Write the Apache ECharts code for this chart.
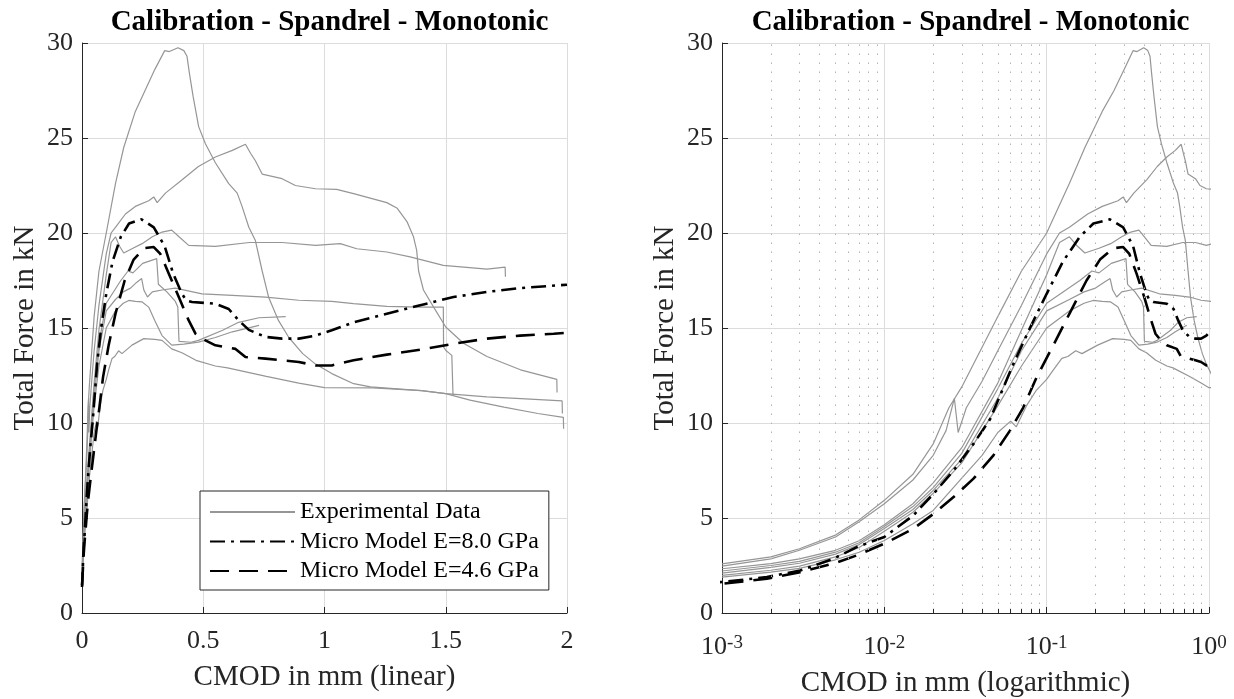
<!DOCTYPE html>
<html><head><meta charset="utf-8">
<script src="https://cdn.jsdelivr.net/npm/echarts@6/dist/echarts.min.js"></script>
<style>html,body{margin:0;padding:0;background:#fff}#c{width:1234px;height:699px}</style>
</head><body><div id="c"></div><script>
// ---------- data (CMOD in mm, force in kN) ----------
const titleText = 'Calibration - Spandrel - Monotonic';
const legendNames = ['Experimental Data', 'Micro Model E=8.0 GPa', 'Micro Model E=4.6 GPa'];
const linearTicks = [0, 0.5, 1, 1.5, 2];
const forceTicks = [0, 5, 10, 15, 20, 25, 30];
const logMinorTicks = [0.002,0.003,0.004,0.005,0.006,0.007,0.008,0.009,0.02,0.03,0.04,0.05,0.06,0.07,0.08,0.09,0.2,0.3,0.4,0.5,0.6,0.7,0.8,0.9];

const expA_x = [0.001,0.002,0.003,0.005,0.007,0.01,0.015,0.02,0.025,0.03,0.05,0.07,0.1,0.138,0.172,0.22,0.26,0.3,0.341,0.36,0.396,0.42,0.433,0.443,0.458,0.481,0.509,0.55,0.605,0.64,0.66,0.688,0.715,0.743,0.77,0.81,0.853,0.91,0.963,1.03,1.12,1.19,1.3,1.4,1.5,1.6,1.74,1.88,1.985,1.986];
const expA_y = [2.59,2.95,3.38,4.1,4.9,5.93,7.3,8.9,10.8,11.9,15.6,18.0,20.0,22.6,24.5,26.4,27.5,28.6,29.6,29.55,29.75,29.6,29.3,28.4,27.2,25.6,24.7,23.7,22.6,22.1,21.4,20.3,19.6,18.0,16.6,15.4,14.5,13.65,13.1,12.6,12.07,11.9,11.8,11.7,11.55,11.2,10.84,10.5,10.3,9.7];

const expB_x = [0.001,0.002,0.003,0.005,0.007,0.01,0.015,0.02,0.024,0.027,0.0285,0.032,0.04,0.05,0.07,0.1,0.12,0.138,0.179,0.22,0.275,0.296,0.31,0.344,0.413,0.48,0.55,0.62,0.674,0.695,0.715,0.743,0.825,0.88,0.963,1.05,1.12,1.257,1.3,1.34,1.367,1.38,1.388,1.408,1.45,1.5,1.573,1.67,1.808,1.958,1.959];
const expB_y = [2.47,2.85,3.3,4.0,4.8,5.75,7.0,8.3,9.6,11.3,9.5,10.8,12.2,13.8,16.2,18.9,20.0,20.3,21.0,21.4,21.7,21.9,21.6,22.1,22.8,23.5,24.0,24.35,24.67,24.2,23.8,23.1,22.86,22.5,22.33,22.3,22.07,21.6,21.3,20.6,19.8,19.1,18.0,17.0,16.1,15.05,14.2,13.5,12.8,12.3,11.6];

const expC_x = [0.001,0.002,0.003,0.005,0.007,0.01,0.015,0.02,0.03,0.05,0.07,0.1,0.12,0.138,0.155,0.172,0.21,0.248,0.29,0.33,0.37,0.4,0.44,0.55,0.69,0.825,0.963,1.065,1.133,1.257,1.353,1.49,1.67,1.745,1.746];
const expC_y = [2.33,2.6,2.85,3.3,3.8,4.65,5.75,6.85,8.7,12.1,14.9,17.8,19.5,19.8,19.3,18.95,19.2,19.44,19.8,20.05,20.15,19.8,19.35,19.3,19.5,19.5,19.35,19.44,19.17,19.0,18.74,18.3,18.1,18.2,17.7];

const expE_x = [0.001,0.002,0.003,0.005,0.007,0.01,0.015,0.02,0.03,0.05,0.07,0.1,0.16,0.19,0.21,0.25,0.308,0.315,0.35,0.385,0.395,0.4,0.45,0.48,0.58,0.646,0.73,0.84];
const expE_y = [2.21,2.5,2.72,3.2,3.7,4.55,5.6,6.6,8.4,11.8,14.2,16.3,17.5,18.0,17.9,18.4,18.65,17.3,16.9,16.4,16.1,14.3,14.25,14.35,14.88,15.3,15.54,15.6];

const expF_x = [0.001,0.002,0.003,0.005,0.007,0.01,0.015,0.02,0.03,0.05,0.07,0.1,0.138,0.17,0.2,0.225,0.246,0.255,0.27,0.29,0.33,0.385,0.495,0.62,0.757,0.894,1.03,1.12,1.257,1.395,1.49,1.491,1.502,1.525,1.53];
const expF_y = [2.1,2.4,2.62,3.1,3.6,4.45,5.45,6.45,8.1,11.3,13.8,15.9,16.5,16.9,17.1,17.4,17.6,17.0,16.63,16.9,17.0,17.1,16.8,16.72,16.63,16.46,16.4,16.28,16.14,16.1,16.1,14.0,13.8,13.56,11.45];

const expG_x = [0.001,0.002,0.003,0.005,0.007,0.01,0.015,0.02,0.03,0.05,0.07,0.1,0.138,0.17,0.193,0.22,0.248,0.275,0.3,0.33,0.37,0.42,0.48,0.55,0.62,0.73];
const expG_y = [1.98,2.25,2.47,2.95,3.45,4.3,5.3,6.3,7.9,10.9,13.0,15.0,15.9,16.3,16.45,16.4,16.37,16.1,15.4,14.6,14.1,14.15,14.26,14.5,14.8,15.14];

const expH_x = [0.001,0.002,0.003,0.005,0.007,0.01,0.015,0.02,0.03,0.04,0.05,0.06,0.065,0.075,0.086,0.1,0.11,0.124,0.135,0.151,0.165,0.206,0.255,0.3,0.33,0.37,0.412,0.47,0.55,0.6,0.76,0.894,1.0,1.2,1.4,1.5,1.67,1.81,1.98,1.981];
const expH_y = [1.89,2.15,2.35,2.8,3.2,3.82,4.7,5.4,7.1,8.3,9.5,10.1,9.8,10.9,11.7,12.3,12.8,13.4,13.5,13.8,13.65,14.1,14.44,14.4,14.35,13.9,13.7,13.3,13.0,12.9,12.45,12.1,11.86,11.85,11.7,11.55,11.37,11.28,11.16,10.5];

const model8_x = [0.0002,0.001,0.00189,0.00303,0.00486,0.00676,0.01,0.0151,0.0201,0.0267,0.0354,0.0448,0.0623,0.0789,0.1,0.126,0.16,0.194,0.245,0.296,0.341,0.375,0.412,0.43,0.454,0.55,0.605,0.646,0.688,0.757,0.825,0.894,0.963,1.03,1.12,1.257,1.395,1.532,1.67,1.807,2.0];
const model8_y = [1.37,1.63,1.89,2.24,2.86,3.47,4.0,5.14,6.28,7.5,8.9,10.2,13.1,15.0,16.8,18.5,19.8,20.5,20.72,20.3,19.3,17.9,16.8,16.45,16.37,16.28,16.0,15.4,14.9,14.53,14.44,14.44,14.6,14.88,15.3,15.75,16.2,16.63,16.9,17.1,17.28];

const model46_x = [0.0002,0.001,0.00189,0.00303,0.00486,0.00676,0.01,0.0151,0.0201,0.0267,0.0354,0.047,0.0594,0.0716,0.0866,0.11,0.139,0.176,0.213,0.257,0.296,0.323,0.358,0.4,0.44,0.468,0.495,0.55,0.633,0.674,0.757,0.825,0.894,0.963,1.03,1.12,1.257,1.395,1.532,1.67,1.807,1.945,2.0];
const model46_y = [1.45,1.54,1.8,2.15,2.6,3.03,3.65,4.44,5.22,6.1,7.07,8.3,9.6,10.8,12.4,14.1,15.8,17.5,18.6,19.2,19.26,18.9,17.86,16.6,15.4,14.7,14.44,14.09,13.9,13.47,13.39,13.3,13.21,13.03,13.03,13.3,13.6,13.86,14.17,14.44,14.6,14.7,14.75];

// ---------- styling ----------
const FONT = '"Liberation Serif", "Times New Roman", serif';
const INK = '#262626';
const GREY = '#969696';
const GRIDC = '#dcdcdc';

function pairs(xs, ys) { return xs.map((x, i) => [x, ys[i]]); }
const experiments = [[expA_x,expA_y],[expB_x,expB_y],[expC_x,expC_y],[expE_x,expE_y],[expF_x,expF_y],[expG_x,expG_y],[expH_x,expH_y]];
const models = [
  {name: legendNames[1], xs: model8_x, ys: model8_y, type: [15, 6, 3, 6]},
  {name: legendNames[2], xs: model46_x, ys: model46_y, type: [19, 10]}
];

const series = [];
for (let p = 0; p < 2; p++) {
  experiments.forEach(([xs, ys]) => {
    series.push({
      name: legendNames[0], type: 'line', xAxisIndex: p, yAxisIndex: p,
      data: pairs(xs, ys),
      symbol: 'none', showSymbol: false, smooth: false, z: 3,
      lineStyle: {color: GREY, width: 1.2}, itemStyle: {color: GREY},
      emphasis: {disabled: true}, silent: true
    });
  });
  models.forEach(m => {
    series.push({
      name: m.name, type: 'line', xAxisIndex: p, yAxisIndex: p,
      data: pairs(m.xs, m.ys),
      symbol: 'none', showSymbol: false, z: 4,
      lineStyle: {color: '#000', width: 2.6, type: m.type}, itemStyle: {color: '#000'},
      emphasis: {disabled: true}, silent: true
    });
  });
}
// dotted minor grid and minor ticks of the logarithmic axis
series.push({
  name: 'minorGrid', type: 'line', xAxisIndex: 1, yAxisIndex: 1, data: [], z: 1, silent: true,
  markLine: {silent: true, symbol: 'none', animation: false, precision: 6, label: {show: false},
    lineStyle: {color: '#b4b4b4', width: 1, type: [1.5, 7.5]},
    emphasis: {disabled: true},
    data: logMinorTicks.map(v => ({xAxis: v}))}
});
series.push({
  name: 'minorTicks', type: 'line', xAxisIndex: 1, yAxisIndex: 1, data: [], z: 5, silent: true,
  markLine: {silent: true, symbol: 'none', animation: false, precision: 6, label: {show: false},
    lineStyle: {color: INK, width: 1, type: 'solid'},
    emphasis: {disabled: true},
    data: logMinorTicks.map(v => [{coord: [v, 0]}, {coord: [v, 0.22]}])}
});

const tickLabel = {fontFamily: FONT, fontSize: 26, color: INK};
const nameStyle = {fontFamily: FONT, fontSize: 29, color: INK};
function yAxis(idx) {
  return {
    gridIndex: idx, type: 'value', min: forceTicks[0], max: forceTicks[forceTicks.length - 1], interval: 5,
    name: 'Total Force in kN', nameLocation: 'middle', nameGap: 42, nameTextStyle: nameStyle,
    axisLine: {show: true, onZero: false, lineStyle: {color: INK, width: 1}},
    axisTick: {show: true, inside: true, length: 6, lineStyle: {color: INK}},
    axisLabel: Object.assign({margin: 9}, tickLabel),
    splitLine: {show: true, lineStyle: {color: GRIDC, width: 1}}
  };
}

const option = {
  animation: false,
  backgroundColor: '#fff',
  title: [
    {text: titleText, left: 324.5, top: 3, textAlign: 'center', textStyle: {fontFamily: FONT, fontSize: 29, fontWeight: 'bold', color: '#000'}},
    {text: titleText, left: 965.5, top: 3, textAlign: 'center', textStyle: {fontFamily: FONT, fontSize: 29, fontWeight: 'bold', color: '#000'}}
  ],
  legend: {
    data: legendNames, orient: 'vertical', left: 200, top: 491,
    padding: [8, 10, 6, 9], itemWidth: 85, itemHeight: 14, itemGap: 3.5,
    borderColor: INK, borderWidth: 1, backgroundColor: '#fff',
    itemStyle: {opacity: 0},
    textStyle: {fontFamily: FONT, fontSize: 24, color: '#000', lineHeight: 26},
    selectedMode: false
  },
  grid: [
    {left: 82, top: 43, width: 485, height: 570, outerBoundsMode: 'none', containLabel: false},
    {left: 722, top: 43, width: 487, height: 570, outerBoundsMode: 'none', containLabel: false}
  ],
  xAxis: [
    {
      gridIndex: 0, type: 'value', min: linearTicks[0], max: linearTicks[linearTicks.length - 1], interval: 0.5,
      name: 'CMOD in mm (linear)', nameLocation: 'middle', nameGap: 50, nameTextStyle: nameStyle,
      axisLine: {show: true, onZero: false, lineStyle: {color: INK, width: 1}},
      axisTick: {show: true, inside: true, length: 6, lineStyle: {color: INK}},
      axisLabel: Object.assign({margin: 15}, tickLabel),
      splitLine: {show: true, lineStyle: {color: GRIDC, width: 1}}
    },
    {
      gridIndex: 1, type: 'log', logBase: 10, min: 0.001, max: 1,
      name: 'CMOD in mm (logarithmic)', nameLocation: 'middle', nameGap: 56, nameTextStyle: nameStyle,
      axisLine: {show: true, onZero: false, lineStyle: {color: INK, width: 1}},
      axisTick: {show: true, inside: true, length: 6, lineStyle: {color: INK}},
      axisLabel: {
        margin: 21, color: INK,
        formatter: v => '{b|10}{s|' + Math.round(Math.log10(v)) + '}',
        rich: {
          b: {fontFamily: FONT, fontSize: 26, color: INK, lineHeight: 26, verticalAlign: 'bottom'},
          s: {fontFamily: FONT, fontSize: 19, color: INK, lineHeight: 19, verticalAlign: 'top', padding: [0, 0, 11, 0]}
        }
      },
      splitLine: {show: true, lineStyle: {color: GRIDC, width: 1}}
    }
  ],
  yAxis: [yAxis(0), yAxis(1)],
  series: series
};
const chart = echarts.init(document.getElementById('c'));
chart.setOption(option);
</script></body></html>
